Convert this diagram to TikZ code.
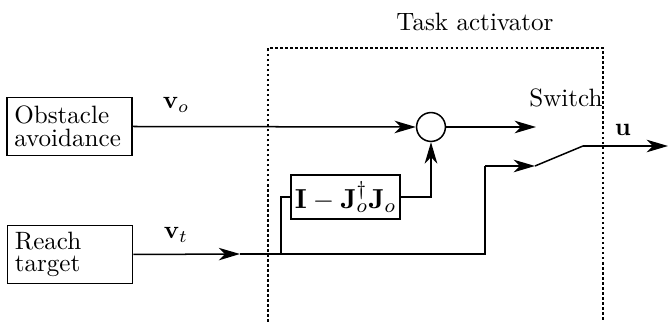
\documentclass[tikz,border=0pt]{standalone}
\usepackage{amsmath}
\usetikzlibrary{arrows.meta}
\tikzset{
  block/.style={draw,rectangle,semithick,inner xsep=3pt,inner ysep=1pt,align=left,text width=44pt,minimum height=23pt},
  junction/.style={draw,circle,semithick,inner sep=0pt,minimum size=11.5pt},
  arr/.style={-{Stealth[length=8.5pt,width=5pt,inset=2.5pt]}},
}
\begin{document}
\begin{tikzpicture}[x=0.014cm,y=-0.014cm,semithick]
\useasboundingbox (0,0) rectangle (670,322);
% activator frame, open at the bottom
\draw[thick,dash pattern=on 1pt off 1pt] (268,322) -- (268,48) -- (603,48) -- (603,322);
\node (title) at (475,22) {Task activator};
% source blocks
\node[block] (obst) at (69.5,126.5) {Obstacle\\[-3pt]avoidance};
\node[block] (reach) at (70,254.5) {Reach\\[-3pt]target};
\node (vo) at (176,105) {$\mathbf{v}_o$};
\node (vt) at (176,235) {$\mathbf{v}_t$};
% summing point and projector
\node[junction] (sum) at (431,127) {};
\node[draw,rectangle,inner xsep=1.5pt,inner ysep=2.5pt,font=\fontsize{11}{13}\selectfont] (proj) at (345.5,197) {$\mathbf{I}-\mathbf{J}_o^{\dagger}\mathbf{J}_o$};
% switch contacts
\coordinate (tin) at (240,254);
\coordinate (tap) at (281,254);
\coordinate (bend) at (485,166);
\coordinate (swhi) at (536,127);
\coordinate (swlo) at (535,166);
\coordinate (swout) at (583,146);
\coordinate (uout) at (668,146);
\node (sw) at (566,98) {Switch};
\node (u) at (623,130) {$\mathbf{u}$};
% signal lines
\draw[arr] (obst.east) -- (sum.west);
\draw[arr] (sum.east) -- (swhi);
\draw[arr] (reach.east) -- (tin);
\draw (tin) -| (bend);
\draw[arr] (bend) -- (swlo);
\draw (tap) |- (proj.west);
\draw[arr] (proj.east) -| (sum.south);
\draw (swlo) -- (swout);
\draw[arr] (swout) -- (uout);
\end{tikzpicture}
\end{document}
